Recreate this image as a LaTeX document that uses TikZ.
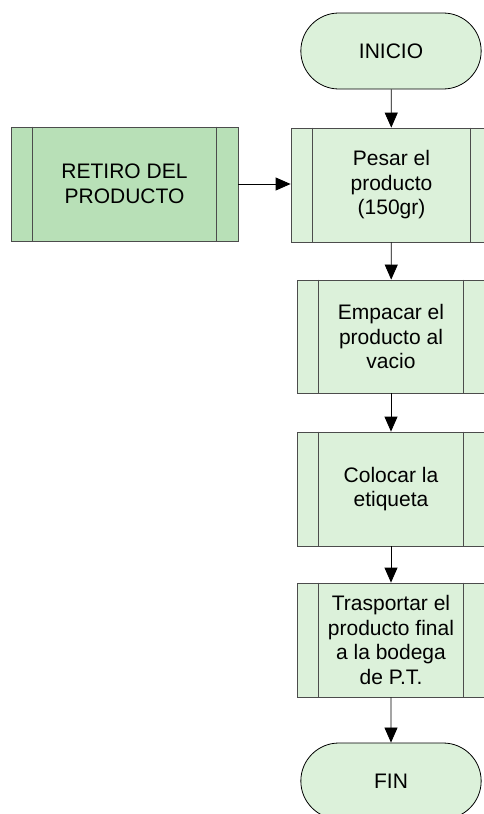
\documentclass[tikz,border=0pt]{standalone}
\usepackage{fontspec}
\setmainfont{Liberation Sans}
\usetikzlibrary{shapes.misc,arrows.meta}
\definecolor{verdeclaro}{HTML}{DCF1DA}
\definecolor{verdeoscuro}{HTML}{B8E0B7}
\tikzset{
  texto/.style={font=\fontsize{21}{24.5}\selectfont, align=center},
  proceso/.style={texto, draw=black!70, line width=0.8pt, fill=verdeclaro,
    minimum width=188pt, minimum height=114pt, inner sep=0pt},
  terminal/.style={texto, rounded rectangle, draw=black, line width=0.8pt,
    fill=verdeclaro, minimum width=187pt, minimum height=76pt},
  flecha/.style={-{Triangle[width=13pt,length=15pt]}, line width=0.8pt, black}
}
\begin{document}
\begin{tikzpicture}[x=1pt,y=-1pt]
    \useasboundingbox (0,0) rectangle (483,814);

    % Terminals
    \node[terminal] (inicio) at (391,51) {INICIO};
    \node[terminal] (fin) at (391,781) {FIN};

    % Process boxes
    \node[proceso, fill=verdeoscuro, minimum width=227pt] (retiro) at (124.5,184) {RETIRO DEL\\PRODUCTO};
    \node[proceso, minimum width=201pt] (pesar) at (391.5,185) {Pesar el\\producto\\(150gr)};
    \node[proceso, minimum height=113pt] (empacar) at (391,336.5) {Empacar el\\producto al\\vacio};
    \node[proceso] (colocar) at (391,489) {Colocar la\\etiqueta};
    \node[proceso] (trasp) at (391,640) {Trasportar el\\producto final\\a la bodega\\de P.T.};

    % Side bars of the boxes
    \foreach \n in {retiro,pesar,empacar,colocar,trasp} {
        \draw[black!70, line width=0.8pt] ([xshift=22pt]\n.north west) -- ([xshift=22pt]\n.south west);
        \draw[black!70, line width=0.8pt] ([xshift=-22pt]\n.north east) -- ([xshift=-22pt]\n.south east);
    }

    % Connectors
    \draw[flecha] (inicio) -- (pesar);
    \draw[flecha] (retiro.east) -- (retiro.east -| pesar.west);
    \draw[flecha] (pesar) -- (empacar);
    \draw[flecha] (empacar) -- (colocar);
    \draw[flecha] (colocar) -- (trasp);
    \draw[flecha] (trasp) -- (fin);
\end{tikzpicture}
\end{document}
